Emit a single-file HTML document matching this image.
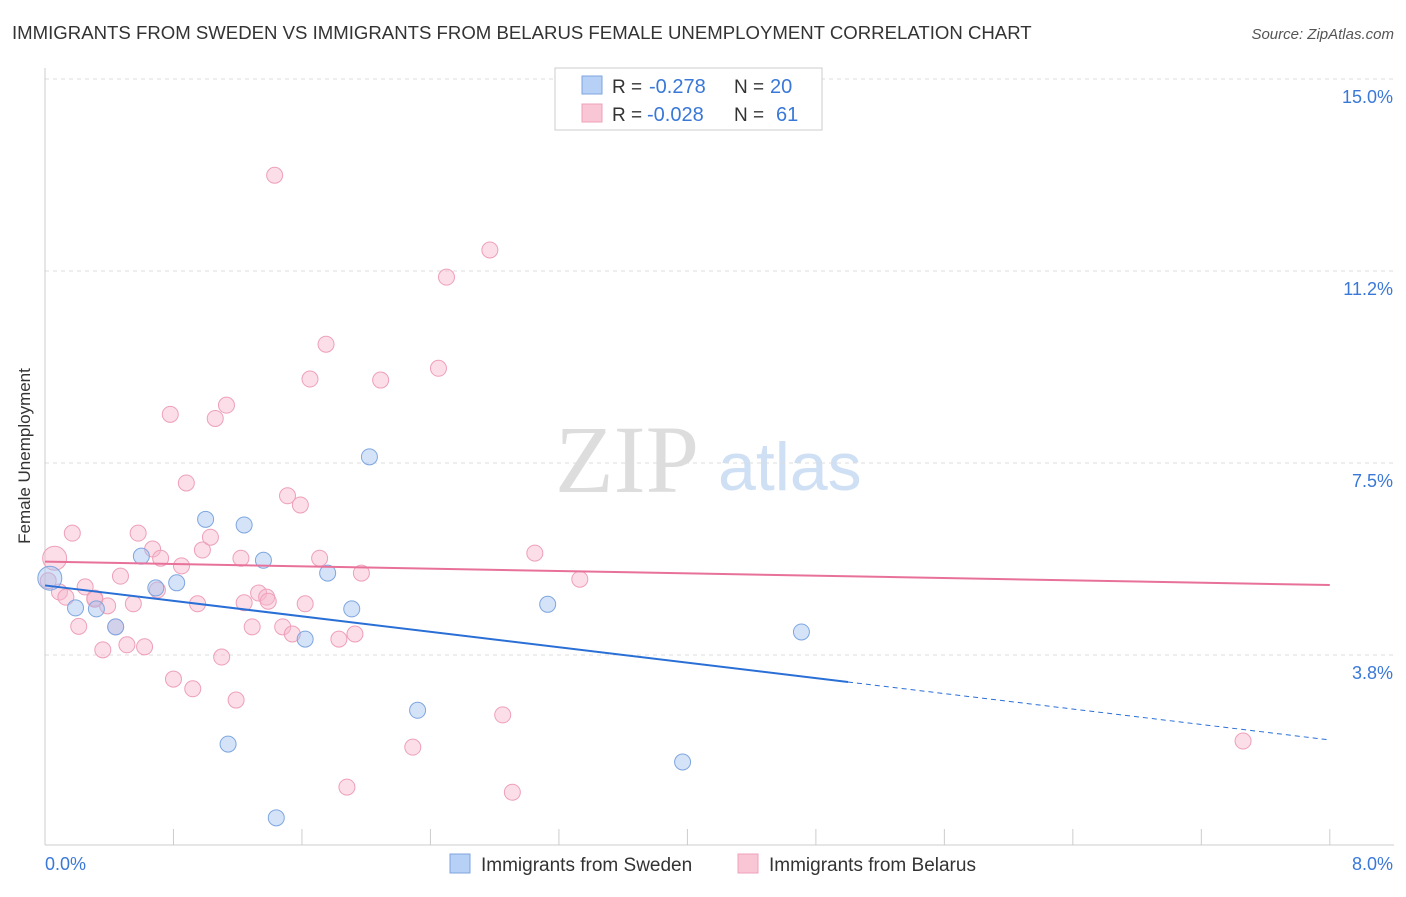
<!DOCTYPE html>
<html><head><meta charset="utf-8"><style>
body{margin:0;background:#fff;font-family:"Liberation Sans",sans-serif;}
</style></head><body>
<svg id="chart" width="1406" height="892" xmlns="http://www.w3.org/2000/svg" font-family="Liberation Sans, sans-serif">
<text x="12" y="39" font-size="18.6" fill="#333">IMMIGRANTS FROM SWEDEN VS IMMIGRANTS FROM BELARUS FEMALE UNEMPLOYMENT CORRELATION CHART</text>
<text x="1394" y="39" font-size="15" fill="#555" font-style="italic" text-anchor="end">Source: ZipAtlas.com</text>
<text x="30" y="456" font-size="17" fill="#333" text-anchor="middle" transform="rotate(-90 30 456)">Female Unemployment</text>
<text x="555" y="492" font-size="96" fill="#ddd" font-family="Liberation Serif, serif">ZIP</text>
<text x="718" y="490" font-size="68" fill="#cfe0f5">atlas</text>
<g id="grid"></g><g id="axes"></g><g id="pts"></g><g id="lines"></g>
<g>
<rect x="555" y="68" width="267" height="62" fill="#fff" stroke="#ccc"/>
<rect x="582" y="76" width="20" height="18" fill="#b7d0f5" stroke="#7ea6e0"/>
<rect x="582" y="104" width="20" height="18" fill="#f9c6d6" stroke="#eea0b8"/>
<text x="612" y="93" font-size="19" fill="#333">R =</text>
<text x="649" y="93" font-size="20" fill="#3a78d8">-0.278</text>
<text x="734" y="93" font-size="19" fill="#333">N =</text>
<text x="770" y="93" font-size="20" fill="#3a78d8">20</text>
<text x="612" y="121" font-size="19" fill="#333">R =</text>
<text x="647" y="121" font-size="20" fill="#3a78d8">-0.028</text>
<text x="734" y="121" font-size="19" fill="#333">N =</text>
<text x="776" y="121" font-size="20" fill="#3a78d8">61</text>
</g>
<g>
<rect x="450" y="854" width="20" height="19" fill="#b7d0f5" stroke="#7ea6e0"/>
<text x="481" y="871" font-size="19" fill="#333">Immigrants from Sweden</text>
<rect x="738" y="854" width="20" height="19" fill="#f9c6d6" stroke="#eea0b8"/>
<text x="769" y="871" font-size="19" fill="#333">Immigrants from Belarus</text>
</g>
</svg>
<script>
const yTicks=[15,11.25,7.5,3.75];
const yTickLabels=["15.0%","11.2%","7.5%","3.8%"];
const xTickLabels=["0.0%","8.0%"];
const swedenX=[0.03,0.19,0.32,0.44,0.6,0.69,0.82,1.0,1.14,1.24,1.36,1.44,1.62,1.76,1.91,2.02,2.32,3.13,3.97,4.71];
const swedenY=[5.25,4.67,4.65,4.3,5.68,5.06,5.16,6.4,2.01,6.29,5.6,0.57,4.06,5.35,4.65,7.62,2.67,4.74,1.66,4.2];
const belarusX=[0.06,0.02,0.17,0.09,0.21,0.25,0.31,0.36,0.39,0.44,0.47,0.51,0.55,0.58,0.62,0.67,0.72,0.7,0.78,0.8,0.85,0.88,0.92,0.95,0.98,1.03,1.06,1.1,1.13,1.19,1.22,1.24,1.29,1.33,1.38,1.39,1.43,1.48,1.51,1.54,1.59,1.62,1.65,1.71,1.75,1.83,1.93,1.97,2.09,2.29,2.45,2.5,2.77,2.85,1.88,2.91,3.05,3.33,7.46,0.31,0.13];
const belarusY=[5.64,5.2,6.13,4.98,4.31,5.08,4.86,3.85,4.71,4.3,5.29,3.95,4.75,6.13,3.91,5.82,5.64,5.02,8.45,3.28,5.49,7.11,3.09,4.75,5.8,6.05,8.37,3.71,8.63,2.87,5.64,4.77,4.3,4.96,4.88,4.8,13.12,4.3,6.86,4.16,6.68,4.75,9.14,5.64,9.82,4.06,4.16,5.35,9.12,1.95,9.35,11.13,11.66,2.58,1.17,1.07,5.74,5.23,2.07,4.84,4.88];
const xs=v=>45+v*160.6, ys=v=>847-v*51.2;
const NS="http://www.w3.org/2000/svg";
function mk(t,a,p){const e=document.createElementNS(NS,t);for(const k in a)e.setAttribute(k,a[k]);document.getElementById(p).appendChild(e);return e;}
yTicks.forEach((t,i)=>{
 const l=mk('line',{x1:45,x2:1394,y1:ys(t),y2:ys(t),stroke:'#ddd','stroke-dasharray':'4,4'},'grid');
 
 
 const tx=mk('text',{x:1393,y:ys(t)+24,'font-size':18,fill:'#3a78d8','text-anchor':'end'},'grid');tx.textContent=yTickLabels[i];
 
 
});
let ax=mk('line',{x1:45,x2:45,y1:68,y2:845,stroke:'#ccc'},'axes');


ax=mk('line',{x1:45,x2:1394,y1:845,y2:845,stroke:'#ccc'},'axes');


for(let i=0;i<=10;i++){const t=mk('line',{x1:xs(i*0.8),x2:xs(i*0.8),y1:829,y2:845,stroke:'#ccc'},'axes');
 
 }
xTickLabels.forEach((s,i)=>{const t=mk('text',{x:i?1393:45,y:870,'font-size':18,fill:'#3a78d8','text-anchor':i?'end':'start'},'axes');t.textContent=s;
 
 });
function pts(X,Y,fill,stroke,name){X.forEach((x,i)=>{const c=mk('circle',{cx:xs(x),cy:ys(Y[i]),r:i==0?12:8,fill:fill,stroke:stroke,'stroke-width':1},'pts');
 
 });}
pts(belarusX,belarusY,'rgba(246,182,204,0.45)','#eea0b8','belarus-point');
pts(swedenX,swedenY,'rgba(160,192,240,0.45)','#7ea6e0','sweden-point');
function fit(X,Y){const n=X.length,mx=X.reduce((a,b)=>a+b)/n,my=Y.reduce((a,b)=>a+b)/n;let sxy=0,sxx=0;X.forEach((x,i)=>{sxy+=(x-mx)*(Y[i]-my);sxx+=(x-mx)**2});const b=sxy/sxx;return [my-b*mx,b];}
const [ab,bb]=fit(swedenX,swedenY),[ap,bp]=fit(belarusX,belarusY);
let l=mk('line',{x1:xs(0),y1:ys(ab),x2:xs(5),y2:ys(ab+bb*5),stroke:'#2a6fd6','stroke-width':2},'lines');


l=mk('line',{x1:xs(5),y1:ys(ab+bb*5),x2:xs(8),y2:ys(ab+bb*8),stroke:'#2a6fd6','stroke-width':1,'stroke-dasharray':'5,4'},'lines');


l=mk('line',{x1:xs(0),y1:ys(ap),x2:xs(8),y2:ys(ap+bp*8),stroke:'#e8719a','stroke-width':2},'lines');


</script>
</body></html>
